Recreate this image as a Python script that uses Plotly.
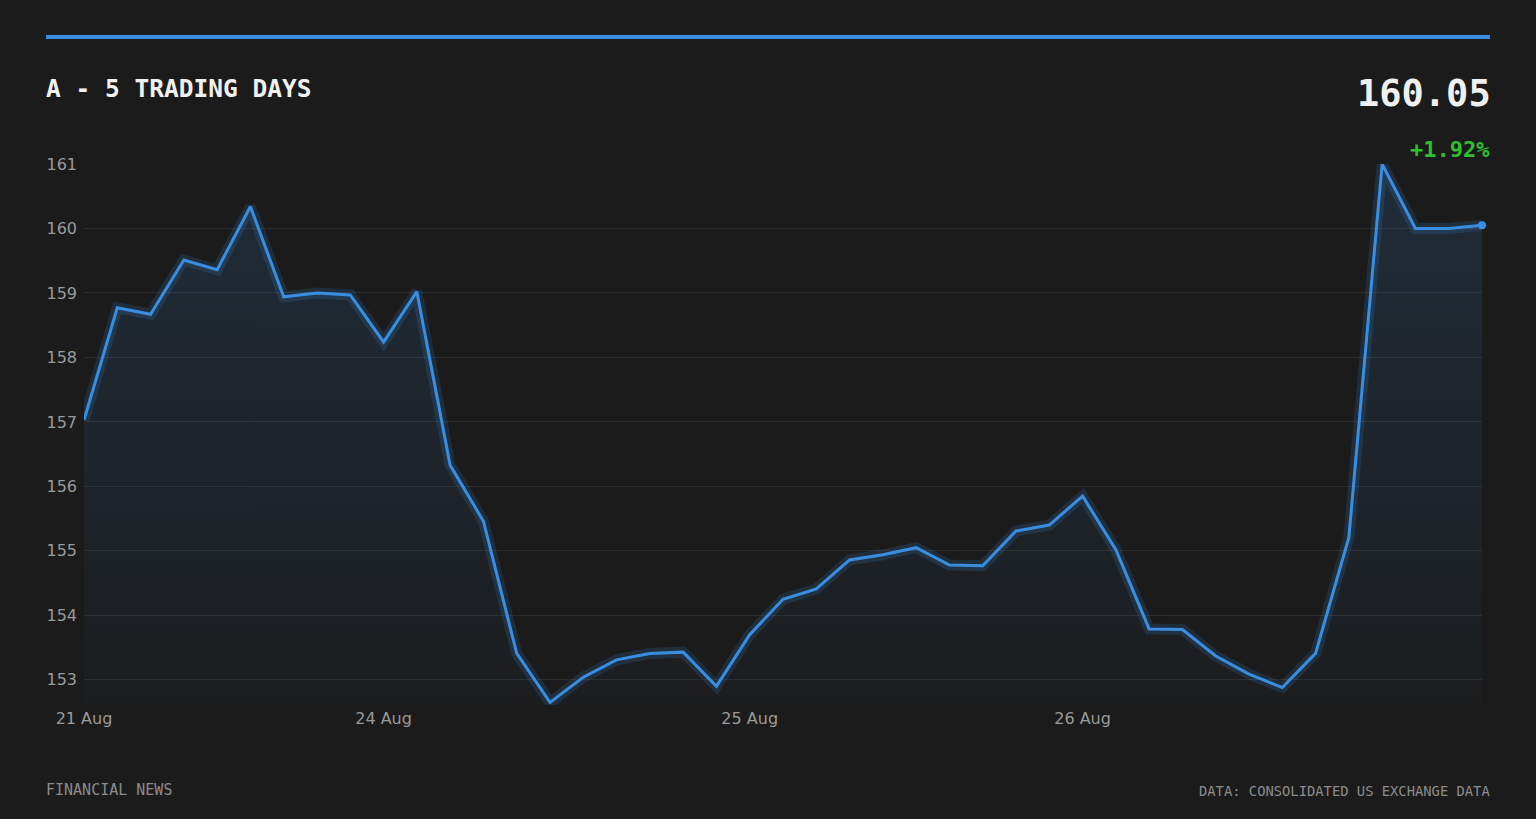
import plotly.graph_objects as go

# Intraday closes over 5 trading days
prices = [
    157.03, 158.77, 158.67, 159.51, 159.36, 160.34, 158.94, 159.00, 158.97, 158.24,
    159.02, 156.33, 155.46, 153.41, 152.65, 153.04, 153.31, 153.41, 153.43, 152.90,
    153.70, 154.25, 154.41, 154.86, 154.94, 155.05, 154.78, 154.77, 155.31, 155.40,
    155.85, 155.02, 153.79, 153.78, 153.37, 153.09, 152.88, 153.41, 155.21, 161.00,
    160.00, 160.00, 160.05,
]
x_idx = list(range(len(prices)))
tick_idx = [0, 9, 20, 30]
tick_text = ["21 Aug", "24 Aug", "25 Aug", "26 Aug"]
y_ticks = [153, 154, 155, 156, 157, 158, 159, 160, 161]

title_text = "A - 5 TRADING DAYS"
last_price = "160.05"
change_text = "+1.92%"
footer_left = "FINANCIAL NEWS"
footer_right = "DATA: CONSOLIDATED US EXCHANGE DATA"

BG = "#1b1b1b"
BLUE = "#3a8ee2"
W, H = 1536, 819
L, R, T, B = 84, 54, 164, 114
y_lo, y_hi = 152.61, 161.0

fig = go.Figure()

# area fill with vertical gradient
fig.add_trace(go.Scatter(
    x=x_idx, y=prices, mode="lines",
    line=dict(width=0, color=BLUE),
    fill="tozeroy",
    fillgradient=dict(type="vertical", start=y_lo, stop=y_hi,
                      colorscale=[[0, "rgba(58,142,226,0.02)"], [1, "rgba(58,142,226,0.15)"]]),
    hoverinfo="skip",
))
# glow
fig.add_trace(go.Scatter(
    x=x_idx, y=prices, mode="lines",
    line=dict(width=11, color="rgba(58,142,226,0.17)"),
    hoverinfo="skip", cliponaxis=False,
))
# main line
fig.add_trace(go.Scatter(
    x=x_idx, y=prices, mode="lines",
    line=dict(width=3, color=BLUE),
    cliponaxis=False,
))
# last point marker
fig.add_trace(go.Scatter(
    x=[x_idx[-1]], y=[prices[-1]], mode="markers",
    marker=dict(size=8, color=BLUE),
    cliponaxis=False,
))

pw, ph = W - L - R, H - T - B


def px_x(px):
    return (px - L) / pw


def px_y(py):
    return (H - B - py) / ph


fig.add_shape(type="line", xref="paper", yref="paper",
              x0=px_x(46), x1=px_x(1490), y0=px_y(37), y1=px_y(37),
              line=dict(color=BLUE, width=4))

mono = "DejaVu Sans Mono"
fig.add_annotation(text=title_text, xref="paper", yref="paper",
                   x=px_x(44), y=px_y(88), xanchor="left", yanchor="middle",
                   showarrow=False, font=dict(family=mono, size=24.5, color="#f0f0f0", weight="bold"))
fig.add_annotation(text=last_price, xref="paper", yref="paper",
                   x=px_x(1493), y=px_y(94), xanchor="right", yanchor="middle",
                   showarrow=False, font=dict(family=mono, size=37, color="#f0f0f0", weight="bold"))
fig.add_annotation(text=change_text, xref="paper", yref="paper",
                   x=px_x(1492), y=px_y(149), xanchor="right", yanchor="middle",
                   showarrow=False, font=dict(family=mono, size=22, color="#2fbf2f", weight="bold"))
fig.add_annotation(text=footer_left, xref="paper", yref="paper",
                   x=px_x(44), y=px_y(790), xanchor="left", yanchor="middle",
                   showarrow=False, font=dict(family=mono, size=15, color="#8c8c8c"))
fig.add_annotation(text=footer_right, xref="paper", yref="paper",
                   x=px_x(1492), y=px_y(791), xanchor="right", yanchor="middle",
                   showarrow=False, font=dict(family=mono, size=13.8, color="#8c8c8c"))

fig.update_layout(
    width=W, height=H,
    margin=dict(l=L, r=R, t=T, b=B),
    paper_bgcolor=BG, plot_bgcolor=BG,
    showlegend=False,
    hovermode=False,
    xaxis=dict(range=[0, len(prices) - 1], tickmode="array", tickvals=tick_idx, ticktext=tick_text,
               showgrid=False, zeroline=False, showline=False, ticks="", ticklabelstandoff=2,
               tickfont=dict(family="DejaVu Sans", size=16, color="#9a9a9a")),
    yaxis=dict(range=[y_lo, y_hi], tickmode="array", tickvals=y_ticks,
               gridcolor="rgba(255,255,255,0.08)", gridwidth=1,
               zeroline=False, showline=False, ticks="", ticklabelstandoff=6,
               tickfont=dict(family="DejaVu Sans", size=16, color="#9a9a9a")),
)

# drop the browser's default page margin so the figure fills the window
fig.write_html("out.html", config={"displayModeBar": False},
               post_script="document.body.style.margin='0';")
